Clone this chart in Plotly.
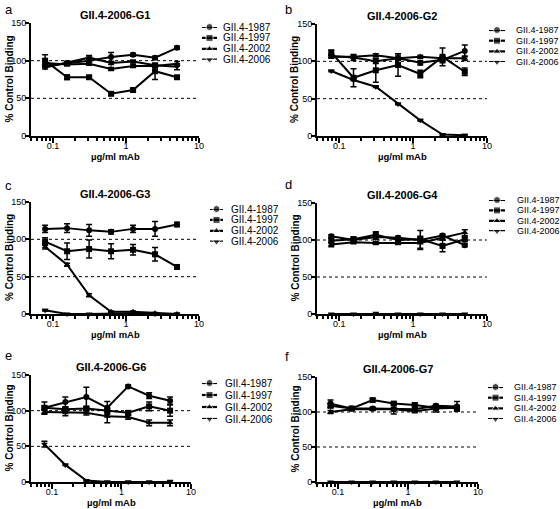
import math
import plotly.graph_objects as go

W, H = 560, 509

# ---------------- data ----------------
conc = [0.078, 0.156, 0.3125, 0.625, 1.25, 2.5, 5]
strains = ["GII.4-1987", "GII.4-1997", "GII.4-2002", "GII.4-2006"]
titles = ["GII.4-2006-G1", "GII.4-2006-G2", "GII.4-2006-G3",
          "GII.4-2006-G4", "GII.4-2006-G6", "GII.4-2006-G7"]
letters = ["a", "b", "c", "d", "e", "f"]
y_ticks = [0, 50, 100, 150]
x_major = [0.1, 1, 10]
x_major_labels = ["0.1", "1", "10"]
x_minor = [0.05, 0.06, 0.07, 0.08, 0.09, 0.2, 0.3, 0.4, 0.5, 0.6, 0.7, 0.8, 0.9,
           2, 3, 4, 5, 6, 7, 8, 9]
ref_lines = [50, 100]

# G1
g1_1987 = [93, 97, 100, 105, 108, 104, 117]
g1_1987_err = [2, 2, 2, 6, 2, 2, 2]
g1_1997 = [100, 78, 78, 56, 61, 86, 78]
g1_1997_err = [8, 3, 2, 2, 2, 11, 2]
g1_2002 = [97, 95, 96, 89, 93, 93, 96]
g1_2002_err = [2, 2, 2, 2, 2, 2, 3]
g1_2006 = [91, 97, 104, 97, 99, 94, 92]
g1_2006_err = [2, 2, 3, 2, 2, 2, 4]
# G2
g2_1987 = [107, 105, 100, 104, 98, 102, 114]
g2_1987_err = [2, 4, 3, 6, 3, 4, 8]
g2_1997 = [112, 78, 88, 95, 83, 106, 86]
g2_1997_err = [3, 12, 16, 15, 5, 12, 5]
g2_2002 = [106, 106, 108, 104, 106, 104, 104]
g2_2002_err = [2, 2, 2, 3, 2, 3, 3]
g2_2006 = [87, 75, 66, 43, 21, 2, 1]
g2_2006_err = [1, 1, 1, 1, 1, 1, 1]
# G3
g3_1987 = [114, 115, 112, 110, 114, 114, 120]
g3_1987_err = [5, 6, 8, 3, 5, 10, 3]
g3_1997 = [97, 84, 87, 84, 86, 80, 63]
g3_1997_err = [5, 11, 12, 10, 7, 9, 2]
g3_2002 = [90, 66, 25, 3, 3, 1, 0]
g3_2002_err = [3, 2, 2, 1, 1, 1, 1]
g3_2006 = [5, 0, 0, 1, 1, 0, 0]
g3_2006_err = [1, 0, 0, 0, 0, 0, 0]
# G4
g4_1987 = [105, 100, 104, 103, 100, 106, 93]
g4_1987_err = [2, 3, 3, 2, 13, 2, 2]
g4_1997 = [99, 101, 107, 100, 101, 92, 101]
g4_1997_err = [3, 3, 4, 4, 4, 8, 3]
g4_2002 = [94, 97, 96, 96, 96, 103, 110]
g4_2002_err = [3, 2, 2, 2, 7, 3, 4]
g4_2006 = [0, 0, 1, 0, 0, 0, 0]
g4_2006_err = [0, 0, 0, 0, 0, 0, 0]
# G6
g6_1987 = [104, 112, 119, 104, 134, 121, 114]
g6_1987_err = [8, 7, 14, 9, 2, 4, 5]
g6_1997 = [104, 102, 103, 100, 97, 106, 100]
g6_1997_err = [3, 3, 3, 3, 3, 6, 8]
g6_2002 = [98, 97, 97, 92, 91, 83, 83]
g6_2002_err = [3, 4, 3, 9, 3, 4, 4]
g6_2006 = [53, 24, 2, 0, 0, 0, 0]
g6_2006_err = [4, 1, 1, 1, 1, 1, 2]
# G7
g7_1987 = [112, 105, 105, 104, 104, 109, 108]
g7_1987_err = [5, 2, 2, 2, 2, 2, 7]
g7_1997 = [109, 105, 117, 112, 110, 106, 106]
g7_1997_err = [3, 2, 2, 2, 2, 3, 3]
g7_2002 = [100, 104, 104, 104, 101, 105, 106]
g7_2002_err = [2, 2, 2, 7, 2, 5, 2]
g7_2006 = [0, 0, 0, 0, 0, 0, 0]
g7_2006_err = [0, 0, 0, 0, 0, 0, 0]

panels_data = [
    [(g1_1987, g1_1987_err), (g1_1997, g1_1997_err), (g1_2002, g1_2002_err), (g1_2006, g1_2006_err)],
    [(g2_1987, g2_1987_err), (g2_1997, g2_1997_err), (g2_2002, g2_2002_err), (g2_2006, g2_2006_err)],
    [(g3_1987, g3_1987_err), (g3_1997, g3_1997_err), (g3_2002, g3_2002_err), (g3_2006, g3_2006_err)],
    [(g4_1987, g4_1987_err), (g4_1997, g4_1997_err), (g4_2002, g4_2002_err), (g4_2006, g4_2006_err)],
    [(g6_1987, g6_1987_err), (g6_1997, g6_1997_err), (g6_2002, g6_2002_err), (g6_2006, g6_2006_err)],
    [(g7_1987, g7_1987_err), (g7_1997, g7_1997_err), (g7_2002, g7_2002_err), (g7_2006, g7_2006_err)],
]

# ---------------- styling / layout ----------------
symbols = ["circle", "square", "triangle-up", "triangle-down"]
FONT = "Liberation Sans, Arial, Helvetica, sans-serif"

# plot areas in pixels: (left, right, top, bottom)
geo = [(31, 199, 23, 136), (317, 487, 24, 136),
       (31, 199, 202, 314), (317, 487, 203, 314),
       (31, 191, 375, 482), (317, 478, 377, 482)]
# legend: (line x0, line x1, text x, first row y, row step, font size)
leg = [(202, 217, 221, 27, 10.9, 10), (489, 505, 514, 30, 10.7, 9),
       (210, 223, 229, 209, 10.9, 10), (489, 505, 515, 200, 10.4, 9),
       (202, 217, 223, 383, 12.0, 10), (488, 503, 512, 387, 10.7, 9)]
letter_pos = [(3, 0), (283, 0), (3, 176), (283, 175), (3, 346), (283, 347)]


def px(x):
    return x / W


def py(y):
    return 1 - y / H


fig = go.Figure()
layout = dict(width=W, height=H, margin=dict(l=0, r=0, t=0, b=0, autoexpand=False),
              paper_bgcolor="white", plot_bgcolor="white",
              showlegend=False, font=dict(family=FONT, color="black"))
annotations = []
shapes = []
xr = [math.log10(0.05), 1]

for i in range(6):
    n = i + 1
    L, R, T, B = geo[i]
    xa = "x" if n == 1 else f"x{n}"
    ya = "y" if n == 1 else f"y{n}"
    layout[f"xaxis{n}"] = dict(
        type="log", range=xr, domain=[px(L), px(R)], anchor=ya,
        showline=True, linewidth=2, linecolor="black", showgrid=False, zeroline=False,
        tickmode="array", tickvals=x_major, ticktext=x_major_labels,
        ticks="outside", ticklen=5, tickwidth=1.5, tickcolor="black",
        ticklabelstandoff=-5,
        tickfont=dict(size=9, family=FONT, color="black"),
        minor=dict(tickmode="array", tickvals=x_minor, ticks="outside",
                   ticklen=3, tickwidth=1.5, tickcolor="black", showgrid=False),
        fixedrange=True)
    layout[f"yaxis{n}"] = dict(
        range=[0, 150], domain=[py(B), py(T)], anchor=xa,
        showline=True, linewidth=2, linecolor="black", showgrid=False, zeroline=False,
        tickmode="array", tickvals=y_ticks,
        ticks="outside", ticklen=4, tickwidth=1.5, tickcolor="black",
        ticklabelstandoff=-3,
        tickfont=dict(size=9, family=FONT, color="black"), fixedrange=True)

    for v in ref_lines:
        shapes.append(dict(type="line", xref=f"{xa} domain", yref=ya, x0=0, x1=1,
                           y0=v, y1=v, line=dict(color="black", width=1, dash="dot"),
                           layer="below"))

    for k, (vals, err) in enumerate(panels_data[i]):
        fig.add_trace(go.Scatter(
            x=conc, y=vals, mode="lines+markers", xaxis=xa, yaxis=ya,
            name=strains[k], cliponaxis=False,
            line=dict(color="black", width=2),
            marker=dict(symbol=symbols[k], size=6, color="black"),
            error_y=dict(type="data", array=err, visible=True, color="black",
                         thickness=1.5, width=3)))

    # legend keys on an invisible helper axis
    lx0, lx1, tx, ry0, rstep, lfs = leg[i]
    m = n + 6
    layout[f"xaxis{m}"] = dict(domain=[px(lx0), px(lx1)], range=[0, 1], visible=False,
                               anchor=f"y{m}", fixedrange=True)
    layout[f"yaxis{m}"] = dict(domain=[py(ry0 + 3 * rstep), py(ry0)], range=[3, 0],
                               visible=False, anchor=f"x{m}", fixedrange=True)
    for k, s in enumerate(strains):
        fig.add_trace(go.Scatter(
            x=[0, 0.5, 1], y=[k, k, k], mode="lines+markers",
            xaxis=f"x{m}", yaxis=f"y{m}", cliponaxis=False, hoverinfo="skip",
            line=dict(color="black", width=2.2),
            marker=dict(symbol=symbols[k], size=[0, 7, 0], color="black")))
        annotations.append(dict(text=s, x=px(tx), y=py(ry0 + k * rstep), xref="paper",
                                yref="paper", xanchor="left", yanchor="middle",
                                showarrow=False, font=dict(size=lfs, family=FONT)))

    # title
    annotations.append(dict(text=f"<b>{titles[i]}</b>", x=px((L + R) / 2), y=py(T - 8),
                            xref="paper", yref="paper", xanchor="center", yanchor="middle",
                            showarrow=False, font=dict(size=11, family=FONT)))
    # panel letter
    lx, ly = letter_pos[i]
    annotations.append(dict(text=letters[i], x=px(lx), y=py(ly), xref="paper", yref="paper",
                            xanchor="left", yanchor="top", showarrow=False,
                            font=dict(size=13, family=FONT)))
    # y title
    annotations.append(dict(text="<b>% Control Binding</b>", x=px(L - 22), y=py((T + B) / 2),
                            xref="paper", yref="paper", xanchor="center", yanchor="middle",
                            textangle=-90, showarrow=False, font=dict(size=10, family=FONT)))
    # x title
    annotations.append(dict(text="<b>µg/ml mAb</b>", x=px((L + R) / 2), y=py(B + 20),
                            xref="paper", yref="paper", xanchor="center", yanchor="middle",
                            showarrow=False, font=dict(size=9.5, family=FONT)))

layout["annotations"] = annotations
layout["shapes"] = shapes
fig.update_layout(**layout)
fig.write_html("out.html", config={"displayModeBar": False},
               post_script="document.body.style.margin='0px';document.body.style.padding='0px';")
